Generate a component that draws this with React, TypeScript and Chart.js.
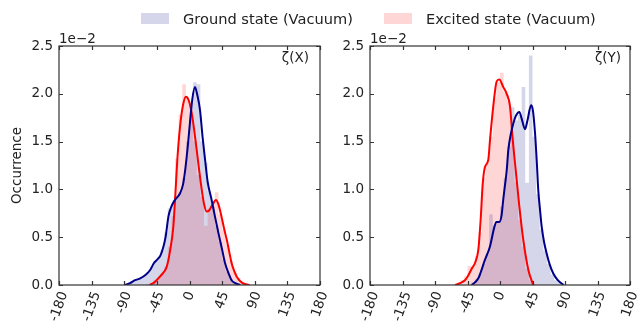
import React, { useEffect, useRef } from "react";
import { Chart, registerables } from "chart.js";

Chart.register(...registerables);

// ---------- data (values in units of 1e-2) ----------
const xTickValues = [-180, -135, -90, -45, 0, 45, 90, 135, 180];
const yTickValues = [0, 0.5, 1.0, 1.5, 2.0, 2.5];

const binWidth = 5;
const binCenters = [
  -87.5, -82.5, -77.5, -72.5, -67.5, -62.5, -57.5, -52.5, -47.5, -42.5, -37.5, -32.5,
  -27.5, -22.5, -17.5, -12.5, -7.5, -2.5, 2.5, 7.5, 12.5, 17.5, 22.5, 27.5,
  32.5, 37.5, 42.5, 47.5, 52.5, 57.5, 62.5, 67.5, 72.5, 77.5, 82.5, 87.5,
];

// ζ(X) histograms
const histGroundX = [
  0.01, 0.02, 0.04, 0.06, 0.07, 0.10, 0.13, 0.19, 0.25, 0.29, 0.37, 0.55,
  0.80, 0.85, 0.93, 0.97, 1.12, 1.50, 1.90, 2.12, 2.10, 1.50, 1.28, 0.98,
  0.82, 0.62, 0.45, 0.27, 0.14, 0.06, 0.03, 0.01, 0, 0, 0, 0,
];
const histExcitedX = [
  0, 0, 0, 0, 0, 0, 0.01, 0.02, 0.05, 0.08, 0.12, 0.19,
  0.40, 0.72, 1.32, 1.78, 2.10, 1.95, 1.78, 1.50, 1.15, 0.92, 0.62, 0.80,
  0.86, 0.97, 0.74, 0.58, 0.42, 0.25, 0.14, 0.07, 0.03, 0.01, 0, 0,
];
// ζ(Y) histograms
const histGroundY = [
  0, 0, 0, 0, 0, 0, 0, 0, 0, 0, 0.03, 0.06,
  0.12, 0.22, 0.33, 0.74, 0.62, 0.66, 0.82, 1.12, 1.45, 1.86, 1.72, 1.78,
  2.07, 1.07, 2.40, 1.55, 0.95, 0.58, 0.36, 0.22, 0.11, 0.05, 0.02, 0,
];
const histExcitedY = [
  0, 0, 0, 0, 0, 0.01, 0.03, 0.05, 0.09, 0.20, 0.19, 0.30,
  0.55, 1.12, 1.28, 1.55, 1.95, 2.12, 2.22, 2.02, 1.92, 1.55, 1.08, 0.68,
  0.40, 0.17, 0.05, 0.01, 0, 0, 0, 0,
  0, 0, 0, 0,
];

// density curves
const kdeGroundXAngles = [-89, -82, -75, -68, -60, -54, -49, -44, -40, -36, -33, -29, -25, -21, -13, -9, -6, -2, 1, 4, 7.5, 11, 14.5, 18, 21.5, 25, 30.5, 35, 40, 45, 49, 54, 58, 63, 70];
const kdeGroundXValues = [0, 0.02, 0.05, 0.07, 0.11, 0.16, 0.23, 0.27, 0.31, 0.40, 0.50, 0.72, 0.82, 0.88, 0.96, 1.05, 1.20, 1.48, 1.73, 1.95, 2.07, 1.98, 1.83, 1.55, 1.31, 1.08, 0.89, 0.72, 0.54, 0.37, 0.23, 0.12, 0.05, 0.02, 0];

const kdeExcitedXAngles = [-55, -48, -43, -36, -31.5, -27, -22.3, -19.5, -16.8, -13, -9, -5, -1, 3, 6.5, 10, 13.5, 17, 20, 23.5, 27, 31, 36.5, 40, 44, 48, 51.5, 55, 58, 62, 65, 70, 76, 83];
const kdeExcitedXValues = [0, 0.03, 0.07, 0.13, 0.19, 0.35, 0.61, 0.95, 1.31, 1.66, 1.88, 1.97, 1.93, 1.80, 1.62, 1.41, 1.19, 0.99, 0.85, 0.77, 0.78, 0.83, 0.89, 0.84, 0.72, 0.58, 0.47, 0.34, 0.23, 0.14, 0.09, 0.04, 0.01, 0];

const kdeGroundYAngles = [-39, -30, -21, -14, -8, -5, -1, 2, 4.6, 7, 9.3, 11.5, 15, 18.4, 22, 26.8, 30, 34.6, 38, 43, 45.5, 48.5, 51, 53, 55.5, 57.7, 61, 64.6, 69, 73.8, 80, 88];
const kdeGroundYValues = [0, 0.07, 0.26, 0.40, 0.60, 0.66, 0.66, 0.72, 0.90, 1.05, 1.20, 1.41, 1.58, 1.69, 1.77, 1.81, 1.74, 1.63, 1.72, 1.88, 1.83, 1.59, 1.28, 0.99, 0.78, 0.61, 0.45, 0.33, 0.21, 0.12, 0.05, 0];

const kdeExcitedYAngles = [-62, -55, -48.5, -44, -39.2, -34.6, -30, -26.8, -24, -21, -16.2, -13.8, -9.3, -4.6, -1, 4.6, 9.3, 13.8, 17.6, 22.2, 26.8, 32.3, 39.2, 46];
const kdeExcitedYValues = [0, 0.02, 0.05, 0.10, 0.17, 0.23, 0.37, 0.68, 1.05, 1.23, 1.31, 1.52, 1.87, 2.13, 2.15, 2.07, 2.00, 1.87, 1.52, 1.17, 0.82, 0.47, 0.16, 0];

const groundLabel = "Ground state (Vacuum)";
const excitedLabel = "Excited state (Vacuum)";

// ---------- styles ----------
const FONT = "'DejaVu Sans', 'Liberation Sans', sans-serif";
const FONT_SIZE = 13.5;
const LEGEND_FONT_SIZE = 14.6;
const TEXT_COLOR = "#222";
const BLUE_FILL = "rgba(0,0,128,0.16)";
const RED_FILL = "rgba(255,0,0,0.16)";
const BLUE_LINE = "#00008b";
const RED_LINE = "#ff0000";
const X_LABEL_ROTATION = 70;

function histPoints(values: number[]) {
  const pts = binCenters.map((c, i) => ({ x: c - binWidth / 2, y: values[i] }));
  pts.push({ x: binCenters[binCenters.length - 1] + binWidth / 2, y: 0 });
  return pts;
}
function curvePoints(xs: number[], ys: number[]) {
  return xs.map((x, i) => ({ x, y: ys[i] }));
}

const framePlugin = {
  id: "frame",
  afterDatasetsDraw(chart: any, _args: any, opts: any) {
    const { ctx, chartArea: a, scales } = chart;
    const xs = scales.x;
    const ys = scales.y;
    ctx.save();
    ctx.strokeStyle = "#333";
    ctx.lineWidth = 1.2;
    ctx.strokeRect(a.left, a.top, a.right - a.left, a.bottom - a.top);
    ctx.beginPath();
    const tl = 4;
    for (const t of xs.ticks) {
      const px = Math.round(xs.getPixelForValue(t.value)) + 0.5;
      ctx.moveTo(px, a.bottom);
      ctx.lineTo(px, a.bottom - tl);
      ctx.moveTo(px, a.top);
      ctx.lineTo(px, a.top + tl);
    }
    for (const t of ys.ticks) {
      const py = Math.round(ys.getPixelForValue(t.value)) + 0.5;
      ctx.moveTo(a.left, py);
      ctx.lineTo(a.left + tl, py);
      ctx.moveTo(a.right, py);
      ctx.lineTo(a.right - tl, py);
    }
    ctx.stroke();

    ctx.fillStyle = TEXT_COLOR;
    ctx.font = `${FONT_SIZE}px ${FONT}`;
    // rotated x tick labels, centred on their ticks (bounding box top below the axis)
    const th = (X_LABEL_ROTATION * Math.PI) / 180;
    ctx.textAlign = "center";
    ctx.textBaseline = "middle";
    for (const t of xs.ticks) {
      const text = String(t.value);
      const w = ctx.measureText(text).width;
      const h = FONT_SIZE;
      const bboxH = w * Math.sin(th) + h * Math.cos(th);
      const cx = xs.getPixelForValue(t.value);
      const cy = a.bottom + 5 + bboxH / 2;
      ctx.save();
      ctx.translate(cx, cy);
      ctx.rotate(-th);
      ctx.fillText(text, 0, 0);
      ctx.restore();
    }

    ctx.textAlign = "left";
    ctx.textBaseline = "alphabetic";
    ctx.fillText("1e\u22122", a.left, a.top - 3);
    ctx.textAlign = "right";
    ctx.textBaseline = "top";
    ctx.fillText(opts.label, a.right - opts.inset, a.top + 6);
    ctx.restore();
  },
};

function makeConfig(p: {
  histGround: number[];
  histExcited: number[];
  kdeGA: number[];
  kdeGV: number[];
  kdeEA: number[];
  kdeEV: number[];
  label: string;
  inset: number;
  yWidth: number;
  padRight: number;
  showTitle: boolean;
}): any {
  const tickFont = { family: FONT, size: FONT_SIZE };
  return {
    type: "line",
    data: {
      datasets: [
        {
          label: groundLabel + " KDE",
          data: curvePoints(p.kdeGA, p.kdeGV),
          borderColor: BLUE_LINE,
          borderWidth: 2,
          pointRadius: 0,
          cubicInterpolationMode: "monotone",
          fill: false,
        },
        {
          label: excitedLabel + " KDE",
          data: curvePoints(p.kdeEA, p.kdeEV),
          borderColor: RED_LINE,
          borderWidth: 2,
          pointRadius: 0,
          cubicInterpolationMode: "monotone",
          fill: false,
        },
        {
          label: groundLabel,
          data: histPoints(p.histGround),
          stepped: "before",
          borderWidth: 0,
          borderColor: "rgba(0,0,0,0)",
          backgroundColor: BLUE_FILL,
          pointRadius: 0,
          fill: "origin",
        },
        {
          label: excitedLabel,
          data: histPoints(p.histExcited),
          stepped: "before",
          borderWidth: 0,
          borderColor: "rgba(0,0,0,0)",
          backgroundColor: RED_FILL,
          pointRadius: 0,
          fill: "origin",
        },
      ],
    },
    options: {
      animation: false,
      responsive: false,
      devicePixelRatio: 1,
      layout: { padding: { top: 46, right: p.padRight, left: 0, bottom: 0 } },
      plugins: {
        legend: { display: false },
        tooltip: { enabled: false },
        frame: { label: p.label, inset: p.inset },
      },
      scales: {
        x: {
          type: "linear",
          min: -180,
          max: 180,
          afterBuildTicks: (s: any) => {
            s.ticks = xTickValues.map((v) => ({ value: v }));
          },
          afterFit: (s: any) => {
            s.height = 40;
          },
          grid: { display: false, drawTicks: false },
          border: { display: false },
          ticks: { display: false },
        },
        y: {
          type: "linear",
          min: 0,
          max: 2.5,
          afterBuildTicks: (s: any) => {
            s.ticks = yTickValues.map((v) => ({ value: v }));
          },
          afterFit: (s: any) => {
            s.width = p.yWidth;
          },
          grid: { display: false, drawTicks: false },
          border: { display: false },
          ticks: {
            padding: 6,
            color: TEXT_COLOR,
            font: tickFont,
            callback: (v: number) => Number(v).toFixed(1),
          },
          title: {
            display: p.showTitle,
            text: "Occurrence",
            color: TEXT_COLOR,
            font: tickFont,
            padding: { top: 9, bottom: 0 },
          },
        },
      },
    },
    plugins: [framePlugin],
  };
}

export default function App() {
  const leftRef = useRef<HTMLCanvasElement | null>(null);
  const rightRef = useRef<HTMLCanvasElement | null>(null);

  useEffect(() => {
    const left = new Chart(
      leftRef.current as HTMLCanvasElement,
      makeConfig({
        histGround: histGroundX,
        histExcited: histExcitedX,
        kdeGA: kdeGroundXAngles,
        kdeGV: kdeGroundXValues,
        kdeEA: kdeExcitedXAngles,
        kdeEV: kdeExcitedXValues,
        label: "\u03b6(X)",
        inset: 11,
        yWidth: 59,
        padRight: 10,
        showTitle: true,
      })
    );
    const right = new Chart(
      rightRef.current as HTMLCanvasElement,
      makeConfig({
        histGround: histGroundY,
        histExcited: histExcitedY,
        kdeGA: kdeGroundYAngles,
        kdeGV: kdeGroundYValues,
        kdeEA: kdeExcitedYAngles,
        kdeEV: kdeExcitedYValues,
        label: "\u03b6(Y)",
        inset: 9,
        yWidth: 40,
        padRight: 8,
        showTitle: false,
      })
    );
    return () => {
      left.destroy();
      right.destroy();
    };
  }, []);

  const textStyle: React.CSSProperties = {
    position: "absolute",
    top: 9,
    height: 20,
    lineHeight: "20px",
    fontFamily: FONT,
    fontSize: LEGEND_FONT_SIZE,
    color: TEXT_COLOR,
    whiteSpace: "nowrap",
  };
  const patch = (left: number, color: string): React.CSSProperties => ({
    position: "absolute",
    left,
    top: 13,
    width: 28,
    height: 11,
    background: color,
  });

  return (
    <div
      style={{
        position: "fixed",
        left: 0,
        top: 0,
        width: 638,
        height: 325,
        background: "#fff",
        overflow: "hidden",
      }}
    >
      <canvas
        ref={leftRef}
        width={330}
        height={325}
        style={{ position: "absolute", left: 0, top: 0, width: 330, height: 325 }}
      />
      <canvas
        ref={rightRef}
        width={308}
        height={325}
        style={{ position: "absolute", left: 330, top: 0, width: 308, height: 325 }}
      />
      <div style={patch(141, BLUE_FILL)} />
      <div style={{ ...textStyle, left: 183 }}>{groundLabel}</div>
      <div style={patch(384, RED_FILL)} />
      <div style={{ ...textStyle, left: 426 }}>{excitedLabel}</div>
    </div>
  );
}
